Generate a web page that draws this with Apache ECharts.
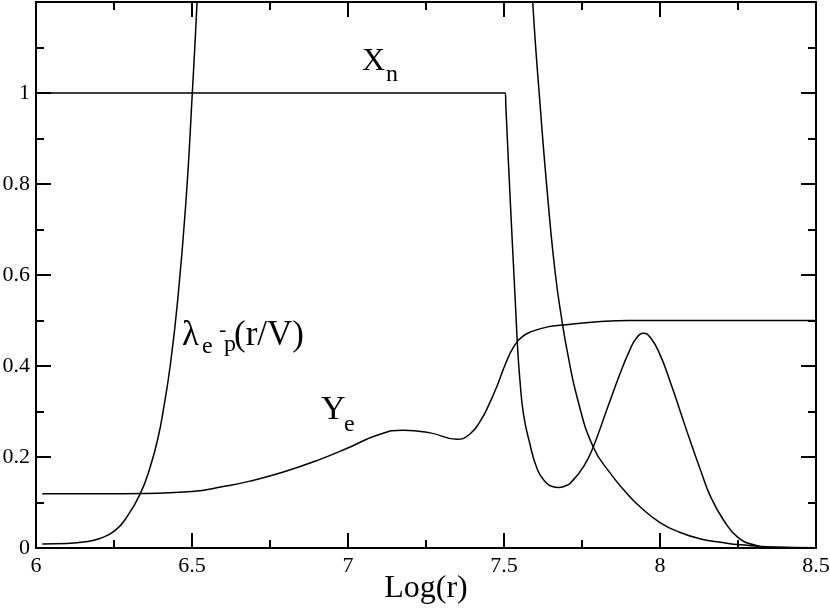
<!DOCTYPE html>
<html>
<head>
<meta charset="utf-8">
<script src="https://cdn.jsdelivr.net/npm/echarts@6/dist/echarts.min.js"></script>
<style>
  html, body { margin: 0; padding: 0; background: #fff; }
  #chart { width: 830px; height: 609px; }
</style>
</head>
<body>
<div id="chart"></div>
<script>
// values (x = Log(r))
var lambdaX = [6.02, 6.1, 6.152, 6.205, 6.253, 6.291, 6.334, 6.366, 6.392, 6.408, 6.43, 6.453, 6.48, 6.501, 6.519, 6.53,
  null,
  7.585, 7.592, 7.615, 7.641, 7.665, 7.688, 7.702, 7.734, 7.786, 7.841, 7.894, 7.937, 8.0, 8.065, 8.13, 8.2, 8.258, 8.364, 8.5];
var lambdaY = [0.009, 0.010, 0.013, 0.021, 0.038, 0.068, 0.119, 0.178, 0.245, 0.303, 0.40, 0.537, 0.756, 1.0, 1.24, 1.42,
  null,
  1.32, 1.2, 0.98, 0.764, 0.6, 0.49, 0.435, 0.332, 0.222, 0.164, 0.12, 0.09, 0.056, 0.034, 0.02, 0.012, 0.007, 0.002, 0.0005];

var xnX = [6.02, 7.0, 7.45, 7.49, 7.504, 7.506, 7.52, 7.536, 7.544, 7.551, 7.562, 7.58, 7.608, 7.636, 7.655, 7.675, 7.695,
  7.713, 7.755, 7.786, 7.83, 7.873, 7.9, 7.925, 7.948, 7.97, 8.0, 8.033, 8.065, 8.097, 8.13, 8.162, 8.204, 8.247, 8.3,
  8.364, 8.5];
var xnY = [1.0, 1.0, 1.0, 1.0, 1.0, 0.97, 0.764, 0.545, 0.435, 0.369, 0.296, 0.237, 0.171, 0.143, 0.135, 0.133, 0.136,
  0.143, 0.179, 0.222, 0.305, 0.385, 0.43, 0.462, 0.472, 0.462, 0.425, 0.365, 0.300, 0.235, 0.171, 0.113, 0.061, 0.025, 0.007,
  0.001, 0.0];

var yeX = [6.02, 6.2, 6.35, 6.5, 6.6, 6.686, 6.793, 6.9, 7.007, 7.093, 7.178, 7.264, 7.349, 7.39, 7.425, 7.455, 7.48,
  7.505, 7.531, 7.56, 7.59, 7.64, 7.69, 7.8, 7.9, 8.2, 8.5];
var yeY = [0.119, 0.119, 0.12, 0.124, 0.135, 0.147, 0.167, 0.192, 0.222, 0.248, 0.259, 0.253, 0.239, 0.25, 0.28, 0.32, 0.36,
  0.405, 0.442, 0.465, 0.476, 0.486, 0.49, 0.497, 0.5, 0.5, 0.5];

var xTicks = { min: 6, max: 8.5, interval: 0.5 };
var yTicks = { min: 0, max: 1.2, interval: 0.2 };

function pairs(xs, ys) {
  var out = [];
  for (var i = 0; i < xs.length; i++) {
    out.push(xs[i] === null ? [null, null] : [xs[i], ys[i]]);
  }
  return out;
}

var serif = "'Liberation Serif', 'Times New Roman', serif";

// annotation text, placed by baseline
function txt(s, x, base, size) {
  return {
    type: 'text',
    x: x,
    y: base - size * 0.34,
    style: { text: s, font: size + 'px ' + serif, fill: '#000', align: 'left', verticalAlign: 'middle' }
  };
}

var chart = echarts.init(document.getElementById('chart'));

var tickStyle = { show: true, inside: true, length: 15, lineStyle: { color: '#000', width: 2 } };
var minorStyle = { show: true, splitNumber: 2, length: 8, lineStyle: { color: '#000', width: 2 } };
var lineAxis = { show: true, onZero: false, lineStyle: { color: '#000', width: 2 } };

var option = {
  backgroundColor: '#fff',
  animation: false,
  grid: { left: 36, right: 14, top: 2, bottom: 61, containLabel: false, outerBoundsMode: 'none' },
  xAxis: [
    {
      type: 'value', min: xTicks.min, max: xTicks.max, interval: xTicks.interval,
      axisLine: lineAxis, axisTick: tickStyle, minorTick: minorStyle,
      splitLine: { show: false },
      axisLabel: { color: '#000', fontFamily: serif, fontSize: 22, margin: 7 },
      name: 'Log(r)', nameLocation: 'middle', nameGap: 25, nameMoveOverlap: false,
      nameTextStyle: { color: '#000', fontFamily: serif, fontSize: 32 }
    },
    {
      type: 'value', position: 'top', min: xTicks.min, max: xTicks.max, interval: xTicks.interval,
      axisLine: lineAxis, axisTick: tickStyle, minorTick: minorStyle,
      splitLine: { show: false }, axisLabel: { show: false }
    }
  ],
  yAxis: [
    {
      type: 'value', min: yTicks.min, max: yTicks.max, interval: yTicks.interval,
      axisLine: lineAxis, axisTick: tickStyle, minorTick: minorStyle,
      splitLine: { show: false },
      axisLabel: {
        color: '#000', fontFamily: serif, fontSize: 22, margin: 6,
        formatter: function (v) { return v > 1.1 ? '' : String(+v.toFixed(1)); }
      }
    },
    {
      type: 'value', position: 'right', min: yTicks.min, max: yTicks.max, interval: yTicks.interval,
      axisLine: lineAxis, axisTick: tickStyle, minorTick: minorStyle,
      splitLine: { show: false }, axisLabel: { show: false }
    }
  ],
  series: [
    {
      name: 'lambda', type: 'line', data: pairs(lambdaX, lambdaY), showSymbol: false, smooth: 0.5,
      connectNulls: false, lineStyle: { color: '#000', width: 1.5 }
    },
    {
      name: 'Xn', type: 'line', data: pairs(xnX, xnY), showSymbol: false, smooth: 0.5,
      lineStyle: { color: '#000', width: 1.5 }
    },
    {
      name: 'Ye', type: 'line', data: pairs(yeX, yeY), showSymbol: false, smooth: 0.5,
      lineStyle: { color: '#000', width: 1.5 }
    }
  ],
  graphic: [
    txt('X', 362, 72, 32),
    txt('n', 386, 83, 24),
    txt('\u03bb', 182, 348, 35),
    txt('e', 202, 355, 24),
    txt('-', 219, 338, 22),
    txt('p', 224, 353, 24),
    txt('(r/V)', 234, 348, 35),
    txt('Y', 321, 422, 34),
    txt('e', 344, 433, 24)
  ]
};

chart.setOption(option);
</script>
</body>
</html>
